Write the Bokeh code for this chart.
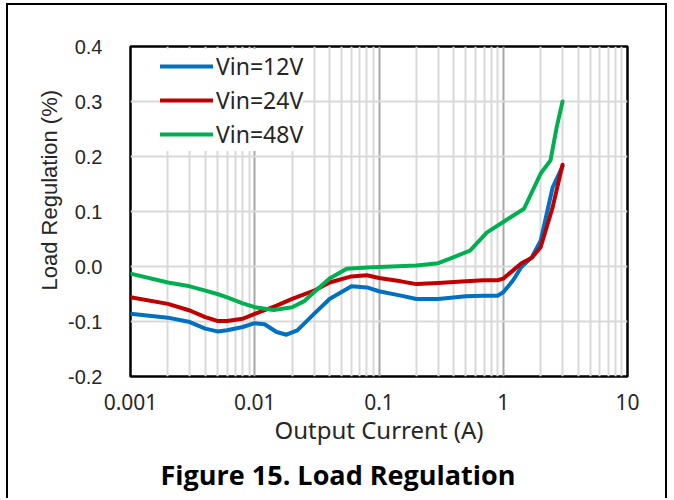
from bokeh.plotting import figure
from bokeh.models import Range1d, FixedTicker, Legend, LegendItem, Title
from bokeh.embed import file_html
from bokeh.resources import INLINE

# ---- data ----
x_12 = [0.001, 0.002, 0.003, 0.004, 0.005, 0.006, 0.008, 0.01, 0.012, 0.015, 0.018, 0.022,
        0.03, 0.04, 0.06, 0.08, 0.1, 0.15, 0.2, 0.3, 0.5, 0.7, 0.9, 1.0, 1.2, 1.4, 1.7, 2.0, 2.5, 3.0]
y_12 = [-0.086, -0.093, -0.101, -0.113, -0.118, -0.116, -0.110, -0.103, -0.105, -0.119, -0.124, -0.116,
        -0.086, -0.059, -0.036, -0.038, -0.045, -0.053, -0.059, -0.059, -0.054, -0.053, -0.053, -0.047,
        -0.025, -0.001, 0.017, 0.047, 0.144, 0.182]

x_24 = [0.001, 0.002, 0.003, 0.004, 0.005, 0.006, 0.008, 0.01, 0.015, 0.02, 0.03, 0.04, 0.06, 0.08,
        0.1, 0.15, 0.2, 0.3, 0.5, 0.7, 0.9, 1.0, 1.2, 1.4, 1.7, 2.0, 2.5, 3.0]
y_24 = [-0.056, -0.068, -0.080, -0.092, -0.099, -0.099, -0.095, -0.086, -0.071, -0.059, -0.044, -0.029,
        -0.018, -0.016, -0.021, -0.027, -0.032, -0.030, -0.027, -0.025, -0.025, -0.022, -0.007, 0.006,
        0.016, 0.035, 0.108, 0.185]

x_48 = [0.001, 0.002, 0.003, 0.004, 0.005, 0.006, 0.008, 0.01, 0.0142, 0.02, 0.025, 0.03, 0.04, 0.055,
        0.08, 0.1, 0.2, 0.3, 0.4, 0.54, 0.74, 1.0, 1.47, 2.0, 2.4, 2.69, 3.0]
y_48 = [-0.013, -0.029, -0.036, -0.044, -0.050, -0.056, -0.067, -0.074, -0.079, -0.074, -0.063, -0.047,
        -0.022, -0.004, -0.002, -0.001, 0.002, 0.006, 0.017, 0.029, 0.062, 0.081, 0.105, 0.169, 0.193,
        0.253, 0.300]

series_names = ["Vin=12V", "Vin=24V", "Vin=48V"]
series_colors = ["#0070C0", "#C00000", "#00B050"]

x_ticks = [0.001, 0.01, 0.1, 1, 10]
x_tick_labels = ["0.001", "0.01", "0.1", "1", "10"]
y_ticks = [-0.2, -0.1, 0.0, 0.1, 0.2, 0.3, 0.4]
y_tick_labels = ["-0.2", "-0.1", "0.0", "0.1", "0.2", "0.3", "0.4"]

x_title = "Output Current (A)"
y_title = "Load Regulation (%)"
fig_title = "Figure 15. Load Regulation"

# ---- figure ----
p = figure(width=661, height=495, x_axis_type="log",
           x_range=Range1d(0.001, 10), y_range=Range1d(-0.2, 0.4),
           output_backend="svg", toolbar_location=None,
           min_border_left=122, min_border_right=42, min_border_top=41, min_border_bottom=124)
p.styles = {"margin-left": "6px", "margin-top": "3px",
            "border-left": "2px solid black", "border-top": "2px solid black",
            "border-right": "2px solid black"}

minor = [m * 10.0 ** k for k in range(-3, 1) for m in range(2, 10)]
p.xaxis.ticker = FixedTicker(ticks=x_ticks, minor_ticks=minor)
p.yaxis.ticker = FixedTicker(ticks=y_ticks)
p.xaxis.major_label_overrides = {t: l for t, l in zip(x_ticks, x_tick_labels)}
p.yaxis.major_label_overrides = {t: l for t, l in zip(y_ticks, y_tick_labels)}

for ax in (p.xaxis[0], p.yaxis[0]):
    ax.axis_line_color = None
    ax.major_tick_line_color = None
    ax.minor_tick_line_color = None
    ax.major_tick_out = 0
    ax.major_tick_in = 0
    ax.minor_tick_out = 0
    ax.minor_tick_in = 0
    ax.major_label_text_color = "#262626"

p.xaxis.major_label_text_font = "Noto Sans"
p.xaxis.major_label_text_font_size = "21px"
p.xaxis.major_label_standoff = 17
p.xaxis.axis_label = x_title
p.xaxis.axis_label_text_font = "Noto Sans"
p.xaxis.axis_label_text_font_style = "normal"
p.xaxis.axis_label_text_font_size = "24px"
p.xaxis.axis_label_text_color = "#262626"
p.xaxis.axis_label_standoff = 0

p.yaxis.major_label_text_font = "Liberation Sans"
p.yaxis.major_label_text_font_size = "20px"
p.yaxis.major_label_standoff = 28

p.xgrid.grid_line_color = "#a6a6a6"
p.xgrid.grid_line_width = 2
p.xgrid.minor_grid_line_color = "#d9d9d9"
p.xgrid.minor_grid_line_width = 2
p.ygrid.grid_line_color = "#d9d9d9"
p.ygrid.grid_line_width = 2

p.outline_line_color = "black"
p.outline_line_width = 2.5
p.background_fill_color = "white"

xs = [x_12, x_24, x_48]
ys = [y_12, y_24, y_48]
items = []
for xv, yv, name, col in zip(xs, ys, series_names, series_colors):
    r = p.line(xv, yv, line_color=col, line_width=4, line_join="round", line_cap="round")
    items.append(LegendItem(label=name, renderers=[r]))

leg = Legend(items=items, location=(30, 225), padding=2, spacing=0,
             glyph_width=53, glyph_height=34, label_height=34, label_standoff=3,
             label_text_font="Noto Sans", label_text_font_size="23px",
             label_text_color="#262626",
             border_line_color=None, background_fill_color="white", background_fill_alpha=1.0)
p.add_layout(leg)

# y axis title (placed a little above the frame centre, as in the reference)
p.add_layout(Title(text=y_title, align="left", offset=86, standoff=8,
                   text_font="Liberation Sans", text_font_style="normal",
                   text_font_size="22px", text_color="#262626"), "left")
# figure caption below the chart
p.add_layout(Title(text=fig_title, align="left", offset=30, standoff=10,
                   text_font="Open Sans", text_font_style="bold",
                   text_font_size="27px", text_color="black"), "below")

open("out.html", "w").write(file_html(p, INLINE))
